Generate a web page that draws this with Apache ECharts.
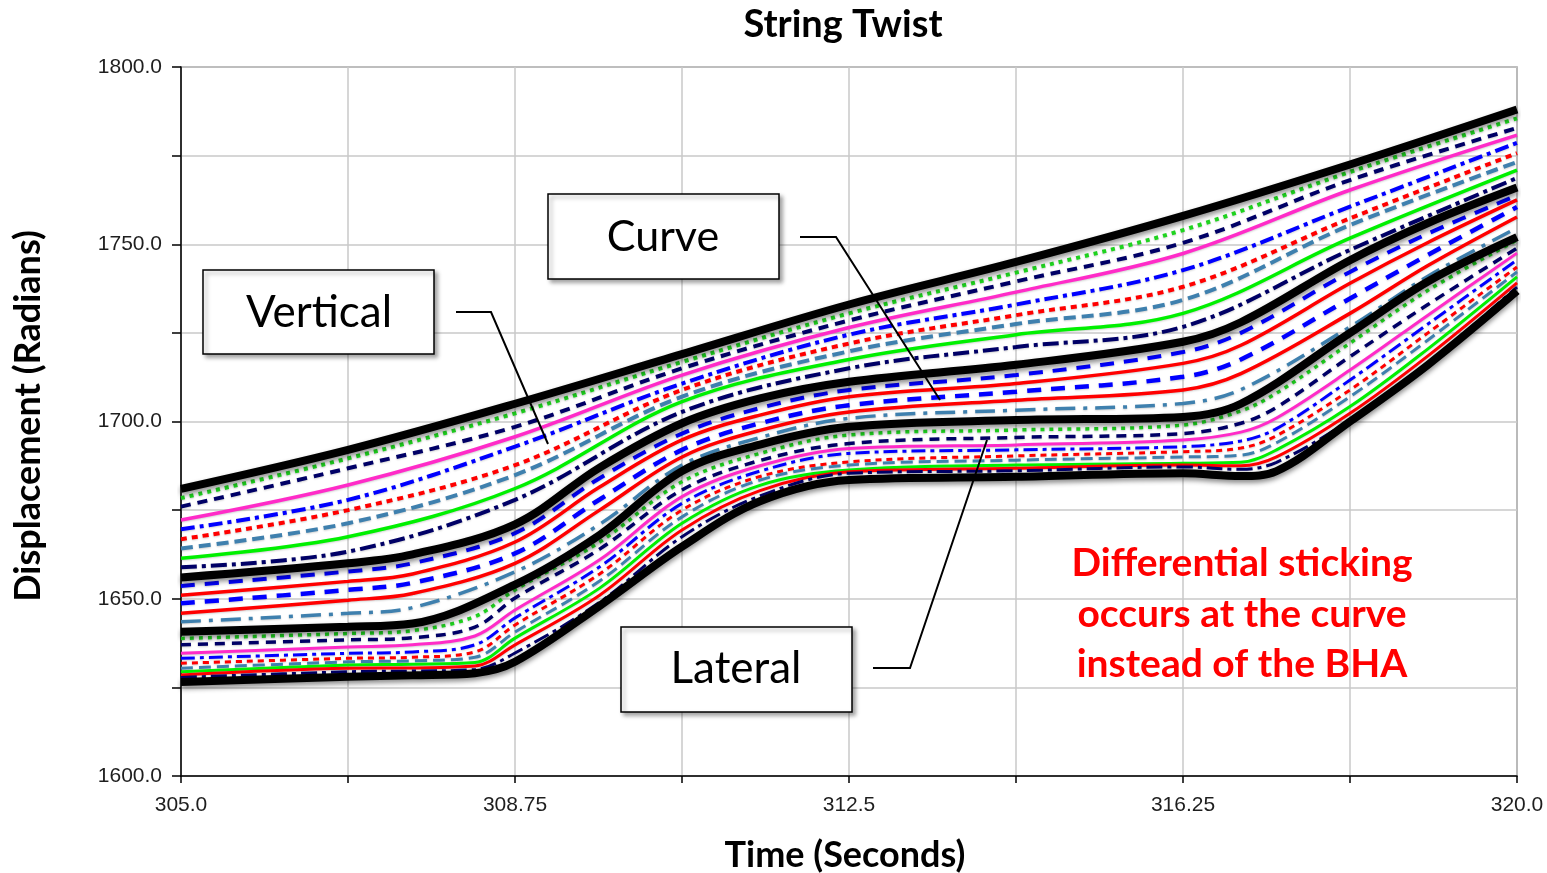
<!DOCTYPE html>
<html><head><meta charset="utf-8">
<script src="https://cdn.jsdelivr.net/npm/echarts@6/dist/echarts.min.js"></script>
<style>html,body{margin:0;padding:0;background:#fff}#c{width:1547px;height:873px}</style>
</head><body><div id="c"></div>
<script>
// ---------- DATA ----------
const xTickLabels = ['305.0', '308.75', '312.5', '316.25', '320.0'];
const yTickLabels = ['1600.0', '1650.0', '1700.0', '1750.0', '1800.0'];

// Vertical section (top black + lines below it)
const tA = [305, 306.875, 308.75, 310.625, 312.5, 314.375, 316.25, 318.125, 320];
const vertTop     = [1681, 1692, 1705, 1719, 1733, 1745, 1758, 1772.5, 1788];
const vGreenDot   = [1678.4, 1689.6, 1702.3, 1716.8, 1730.5, 1742, 1754, 1770.4, 1785.5];
const vNavyDash   = [1676, 1686.8, 1698.5, 1715, 1728.5, 1739.5, 1750.4, 1768.1, 1782.8];
const vPink       = [1672.2, 1682.1, 1695.7, 1713.1, 1726.5, 1736.5, 1747.4, 1765.3, 1780.8];
const vBlueDD     = [1669.6, 1677.9, 1692.9, 1710.7, 1724.5, 1733, 1742.7, 1760.6, 1778.6];
const vRedDot     = [1666.8, 1675, 1687.7, 1708.9, 1722, 1730, 1738, 1757.3, 1775.7];
const vSteelDash  = [1664.2, 1671.3, 1684.9, 1707, 1719.8, 1727.5, 1734.3, 1755.4, 1773.2];
const vGreen      = [1661.4, 1667.5, 1681.1, 1705.6, 1717.5, 1724.5, 1730.5, 1751.7, 1770.9];
const vNavyDD     = [1658.9, 1663.3, 1677.9, 1702.7, 1715, 1721, 1726.7, 1748.4, 1768.7];

// Curve section
const tB = [305, 306.875, 307.6, 308.75, 309.7, 310.625, 311.5, 312.5, 314.375, 316.25, 316.9, 318.125, 319, 320];
const curveTop    = [1656, 1660, 1662.5, 1671, 1687, 1699.5, 1706.5, 1711.2, 1716, 1722.5, 1728, 1745.5, 1756, 1766];
const cBlueDash1  = [1653.6, 1657.7, 1660, 1668.5, 1684, 1696.6, 1703.8, 1708.9, 1713.1, 1719.6, 1725, 1742.2, 1753, 1763.8];
const cRed1       = [1651, 1654.9, 1657, 1666, 1681.5, 1694.8, 1701.8, 1707, 1710.7, 1716.4, 1721.5, 1739, 1750.5, 1762.5];
const cBlueDash2  = [1648.7, 1652.5, 1654.5, 1662.8, 1678, 1692, 1699.5, 1704.6, 1708.4, 1712.6, 1717.5, 1734.7, 1747, 1760.5];
const cRed2       = [1645.9, 1649.6, 1651.5, 1660, 1675, 1690, 1697.5, 1702.7, 1706, 1708.9, 1713.5, 1730.5, 1744, 1757.7];
const cSteelDD    = [1643.5, 1645.9, 1647.5, 1657.6, 1671, 1687.7, 1695.5, 1700.9, 1703.2, 1705.1, 1709, 1726.7, 1741, 1754.6];
const lateralTop  = [1640.7, 1642.1, 1643, 1654, 1668, 1686, 1693.5, 1698.5, 1700.4, 1701.3, 1705, 1725, 1739.5, 1752];

// Lateral section
const tC = [305, 306.875, 307.6, 308.3, 308.75, 309.7, 310.625, 311.5, 312.5, 314.375, 316.25, 316.9, 317.3, 318.125, 319, 320];
const lGreenDot   = [1638.8, 1640.2, 1641, 1645, 1652.5, 1666, 1683, 1691, 1696.2, 1697.6, 1699, 1703, 1708, 1722.1, 1737, 1751.2];
const lNavyDash   = [1637, 1638.4, 1639, 1642, 1650.2, 1664, 1680.7, 1689, 1693.8, 1695.5, 1696.6, 1699.5, 1704, 1718.3, 1733, 1748.9];
const lPink       = [1634.6, 1636.4, 1637, 1639.5, 1646.8, 1661, 1678.8, 1687.5, 1692.4, 1693.4, 1694.8, 1697, 1701, 1714.5, 1730, 1747.5];
const lBlueDD     = [1633.2, 1634.6, 1635, 1637, 1644.6, 1659, 1676.9, 1686, 1691, 1692, 1692.9, 1694.5, 1698, 1711.7, 1727.5, 1745.6];
const lRedDot     = [1631.8, 1633.2, 1633.5, 1635, 1642.6, 1657, 1675, 1684.5, 1688.6, 1690.3, 1691.5, 1692.5, 1696, 1708.9, 1725, 1743.6];
const lSteelDash  = [1630.4, 1632.2, 1632.5, 1633.5, 1640.6, 1655, 1673.1, 1683.5, 1687.7, 1689.1, 1690, 1690.5, 1694, 1707, 1723, 1742.2];
const lGreen      = [1629.4, 1631.3, 1631.5, 1632, 1638.9, 1653, 1671.3, 1682, 1686.3, 1687.7, 1688.2, 1688.5, 1692, 1704.2, 1720.5, 1740.8];
const lRed        = [1628.5, 1630.4, 1630.5, 1631, 1637, 1651, 1669.4, 1680.5, 1685.8, 1686.8, 1687.7, 1687.5, 1690, 1702.3, 1718.5, 1739.1];
const lNavyDD     = [1627.8, 1629.4, 1629.6, 1630, 1634.7, 1649, 1667.5, 1679, 1685.4, 1686.1, 1687.2, 1686.5, 1688.5, 1700.4, 1716.5, 1737.9];
const bhaBottom   = [1626.5, 1628, 1628.4, 1629, 1632.2, 1648, 1664.7, 1677.5, 1683.5, 1684.4, 1685.4, 1684.6, 1686, 1700, 1716, 1736.8];

// ---------- STYLES ----------
const C = {green:'#1fd41f', greenS:'#00f000', navy:'#000066', pink:'#ff2bc8', blue:'#0000ff', red:'#ff0000', steel:'#3f80ae', black:'#000000'};
const D = {
  solid:'solid', gdot:[4,5], ndash:[10,7], bdd:[14,5,4,5], rdot:[6,5], sdash:[12,6], ndd:[16,5,4,5],
  bdash:[14,10], sdd:[20,8,4,8]
};
function pairs(t, v){ return t.map((x,i)=>[x, v[i]]); }
const specs = [
  [tA, vGreenDot, C.green, 4, D.gdot], [tA, vNavyDash, C.navy, 4, D.ndash], [tA, vPink, C.pink, 3.5, D.solid],
  [tA, vBlueDD, C.blue, 4, D.bdd], [tA, vRedDot, C.red, 4, D.rdot], [tA, vSteelDash, C.steel, 4, D.sdash],
  [tA, vGreen, C.greenS, 3.5, D.solid], [tA, vNavyDD, C.navy, 4, D.ndd],
  [tB, cBlueDash1, C.blue, 4, D.bdash], [tB, cRed1, C.red, 3.5, D.solid], [tB, cBlueDash2, C.blue, 4.5, D.bdash],
  [tB, cRed2, C.red, 3.5, D.solid], [tB, cSteelDD, C.steel, 3.5, D.sdd],
  [tC, lGreenDot, C.green, 3.5, D.gdot], [tC, lNavyDash, C.navy, 3.5, D.ndash], [tC, lPink, C.pink, 3, D.solid],
  [tC, lBlueDD, C.blue, 3, D.bdd], [tC, lRedDot, C.red, 3, D.rdot], [tC, lSteelDash, C.steel, 3, D.sdash],
  [tC, lGreen, C.greenS, 3, D.solid], [tC, lRed, C.red, 3, D.solid], [tC, lNavyDD, C.navy, 3, D.ndd],
];
const blacks = [[tA, vertTop], [tB, curveTop], [tB, lateralTop], [tC, bhaBottom]];

const series = specs.map(s => ({
  type:'line', data: pairs(s[0], s[1]), showSymbol:false, symbol:'none', smooth:0.35, silent:true,
  lineStyle:{color:s[2], width:s[3], type:s[4], cap:'butt',
    shadowColor:'rgba(0,0,0,0.18)', shadowBlur:2, shadowOffsetY:1}
})).concat(blacks.map(b => ({
  type:'line', data: pairs(b[0], b[1]), showSymbol:false, symbol:'none', smooth:0.35, silent:true, z:5,
  lineStyle:{color:C.black, width:8, type:'solid', shadowColor:'rgba(0,0,0,0.45)', shadowBlur:5, shadowOffsetY:3}
})));

const labelFont = {fontFamily:'Liberation Sans', fontSize:21, color:'#1e1e1e'};
const T = (o) => Object.assign({fill:'#000', textAlign:'center', textVerticalAlign:'middle', align:'center', verticalAlign:'middle'}, o);
const option = {
  animation:false,
  backgroundColor:'#ffffff',
  grid:{left:181, right:30, top:67, bottom:97, show:true, borderColor:'#444', borderWidth:1.2},
  xAxis:{type:'value', min:305, max:320, interval:1.875,
    axisLine:{lineStyle:{color:'#000', width:1.5}},
    axisTick:{show:true, length:7, lineStyle:{color:'#000', width:1.5}},
    splitLine:{show:true, lineStyle:{color:'#c8c8c8', width:1.5}},
    axisLabel:Object.assign({margin:19, formatter:(v)=>{ const k=Math.round((v-305)/1.875); return k%2===0 ? xTickLabels[k/2] : ''; }}, labelFont)
  },
  yAxis:{type:'value', min:1600, max:1800, interval:25,
    axisLine:{show:true, lineStyle:{color:'#000', width:1.5}},
    axisTick:{show:true, length:9, lineStyle:{color:'#000', width:1.5}},
    splitLine:{show:true, lineStyle:{color:'#c8c8c8', width:1.5}},
    axisLabel:Object.assign({margin:19, formatter:(v)=>{ const k=Math.round((v-1600)/25); return k%2===0 ? yTickLabels[k/2] : ''; }}, labelFont)
  },
  series: series,
  graphic:[
    {type:'text', z:100, style:T({text:'String Twist', x:843, y:25, font:'bold 38px Lato'})},
    {type:'text', z:100, style:T({text:'Time (Seconds)', x:845, y:855, font:'bold 36px Lato'})},
    {type:'text', z:100, x:28, y:416, rotation:Math.PI/2, style:T({text:'Displacement (Radians)', x:0, y:0, font:'bold 36px Lato'})},
    // annotation boxes
    {type:'rect', z:100, shape:{x:203, y:270, width:231, height:84}, style:{fill:'#fff', stroke:'#000', lineWidth:1.5, shadowColor:'rgba(0,0,0,0.35)', shadowBlur:4, shadowOffsetX:3, shadowOffsetY:3}},
    {type:'text', z:101, style:T({text:'Vertical', x:319, y:313, font:'44px Lato'})},
    {type:'polyline', z:100, shape:{points:[[456,312],[491,312],[548,444]]}, style:{stroke:'#000', lineWidth:2, fill:null}},
    {type:'rect', z:100, shape:{x:548, y:194, width:231, height:85}, style:{fill:'#fff', stroke:'#000', lineWidth:1.5, shadowColor:'rgba(0,0,0,0.35)', shadowBlur:4, shadowOffsetX:3, shadowOffsetY:3}},
    {type:'text', z:101, style:T({text:'Curve', x:663, y:237, font:'43px Lato'})},
    {type:'polyline', z:100, shape:{points:[[800,237],[836,237],[940,400]]}, style:{stroke:'#000', lineWidth:2, fill:null}},
    {type:'rect', z:100, shape:{x:621, y:627, width:231, height:85}, style:{fill:'#fff', stroke:'#000', lineWidth:1.5, shadowColor:'rgba(0,0,0,0.35)', shadowBlur:4, shadowOffsetX:3, shadowOffsetY:3}},
    {type:'text', z:101, style:T({text:'Lateral', x:736, y:669, font:'44px Lato'})},
    {type:'polyline', z:100, shape:{points:[[873,668],[910,668],[987,440]]}, style:{stroke:'#000', lineWidth:2, fill:null}},
    // red note
    {type:'text', z:100, style:T({text:'Differential sticking', x:1242, y:563, font:'bold 39px Lato', fill:'#ff0000'})},
    {type:'text', z:100, style:T({text:'occurs at the curve', x:1242, y:614, font:'bold 39px Lato', fill:'#ff0000'})},
    {type:'text', z:100, style:T({text:'instead of the BHA', x:1242, y:664, font:'bold 39px Lato', fill:'#ff0000'})}
  ]
};
const chart = echarts.init(document.getElementById('c'), null, {renderer:'canvas'});
chart.setOption(option);
</script></body></html>
